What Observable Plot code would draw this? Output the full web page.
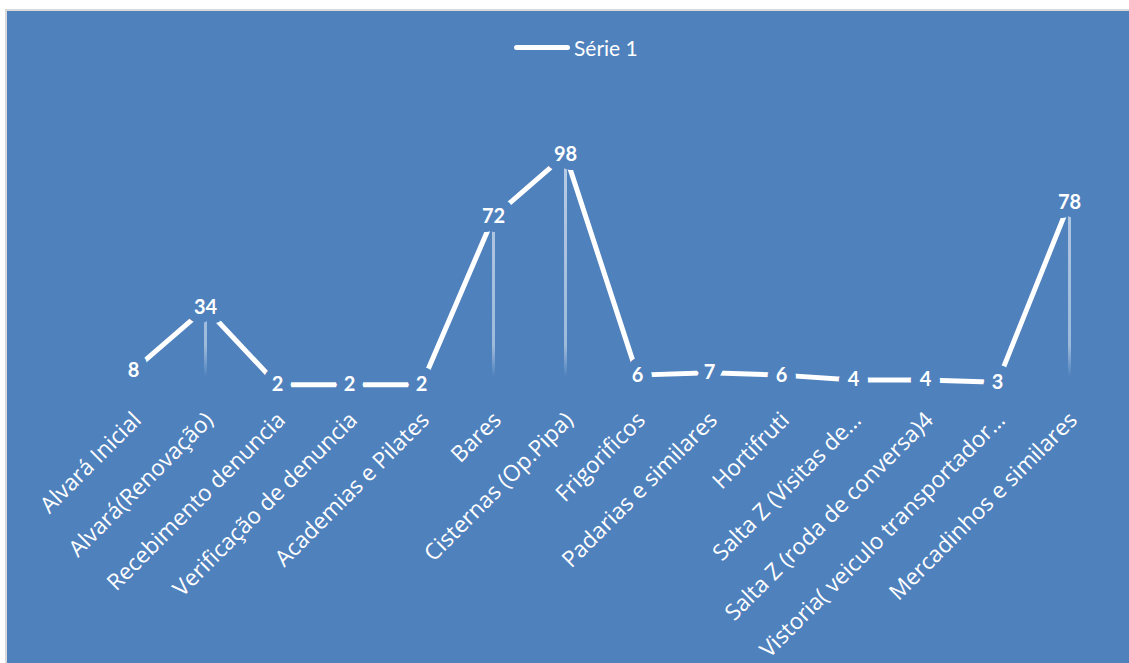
<!DOCTYPE html>
<html>
<head>
<meta charset="utf-8">
<script src="https://cdn.jsdelivr.net/npm/d3@7"></script>
<script src="https://cdn.jsdelivr.net/npm/@observablehq/plot@0.6"></script>
<style>
  html, body { margin: 0; padding: 0; background: #ffffff; }
  #wrap { position: relative; width: 1129px; height: 663px; overflow: hidden; background: #ffffff; }
  #panel { position: absolute; left: 5px; top: 9px; right: 0; bottom: 0; background: #4F81BD;
           border-left: 2px solid #d9d9d9; border-top: 2px solid #d9d9d9; }
  #chart { position: absolute; left: 0; top: 0; }
  #legend { position: absolute; left: 514px; top: 33px; height: 28px; display: flex; align-items: center;
            font-family: Lato, sans-serif; font-size: 21px; color: #ffffff; }
  #legend .sw { width: 56px; height: 5px; background: #ffffff; border-radius: 3px; margin-right: 4px; }
</style>
</head>
<body>
<div id="wrap">
  <div id="panel"></div>
  <div id="chart"></div>
  <div id="legend"><span class="sw"></span><span>Série 1</span></div>
</div>
<script>
const categories = [
  "Alvará Inicial",
  "Alvará(Renovação)",
  "Recebimento denuncia",
  "Verificação de denuncia",
  "Academias e Pilates",
  "Bares",
  "Cisternas (Op.Pipa)",
  "Frigorificos",
  "Padarias e similares",
  "Hortifruti",
  "Salta Z (Visitas de…",
  "Salta Z (roda de conversa)4",
  "Vistoria( veiculo transportador…",
  "Mercadinhos e similares"
];
const serie1 = [8, 34, 2, 2, 2, 72, 98, 6, 7, 6, 4, 4, 3, 78];
const seriesName = "Série 1";

const data = categories.map((c, i) => ({cat: c, value: serie1[i]}));
const bg = "#4F81BD";

const plot = Plot.plot({
  width: 1129,
  height: 663,
  marginTop: 0,
  marginLeft: 0,
  marginRight: 0,
  marginBottom: 274,
  style: {background: "transparent", overflow: "visible"},
  x: {type: "point", domain: categories, range: [127, 1075], padding: 0, axis: null},
  y: {domain: [0, 100], range: [389, 149.4], axis: null},
  marks: [
    Plot.ruleX(data, {x: "cat", y1: "value", y2: 0, stroke: "url(#dropfade)", strokeWidth: 3}),
    Plot.line(data, {x: "cat", y: "value", stroke: "#ffffff", strokeWidth: 5, strokeLinecap: "butt"}),
    Plot.text(data, {
      x: "cat", y: "value", text: d => String(d.value),
      fill: "#ffffff", stroke: bg, strokeWidth: 18, paintOrder: "stroke", strokeLinejoin: "round",
      fontFamily: "Lato", fontWeight: "bold", fontSize: 20
    }),
    Plot.text(categories, {
      x: d => d, frameAnchor: "bottom", rotate: -45, textAnchor: "end",
      dx: 9, dy: 32, fill: "#ffffff", fontFamily: "'Open Sans'", fontSize: 22.5
    })
  ]
});

// gradient for the fading drop lines, placed in the scale's own coordinates
const ys = plot.scale("y");
const svgNS = "http://www.w3.org/2000/svg";
const defs = document.createElementNS(svgNS, "defs");
const grad = document.createElementNS(svgNS, "linearGradient");
grad.setAttribute("id", "dropfade");
grad.setAttribute("gradientUnits", "userSpaceOnUse");
grad.setAttribute("x1", 0); grad.setAttribute("x2", 0);
grad.setAttribute("y1", ys.apply(100)); grad.setAttribute("y2", ys.apply(0));
[[0, 0.6], [0.82, 0.45], [0.95, 0], [1, 0]].forEach(([o, a]) => {
  const s = document.createElementNS(svgNS, "stop");
  s.setAttribute("offset", o);
  s.setAttribute("stop-color", "#ffffff");
  s.setAttribute("stop-opacity", a);
  grad.appendChild(s);
});
defs.appendChild(grad);
plot.insertBefore(defs, plot.firstChild);

document.getElementById("chart").appendChild(plot);
</script>
</body>
</html>
